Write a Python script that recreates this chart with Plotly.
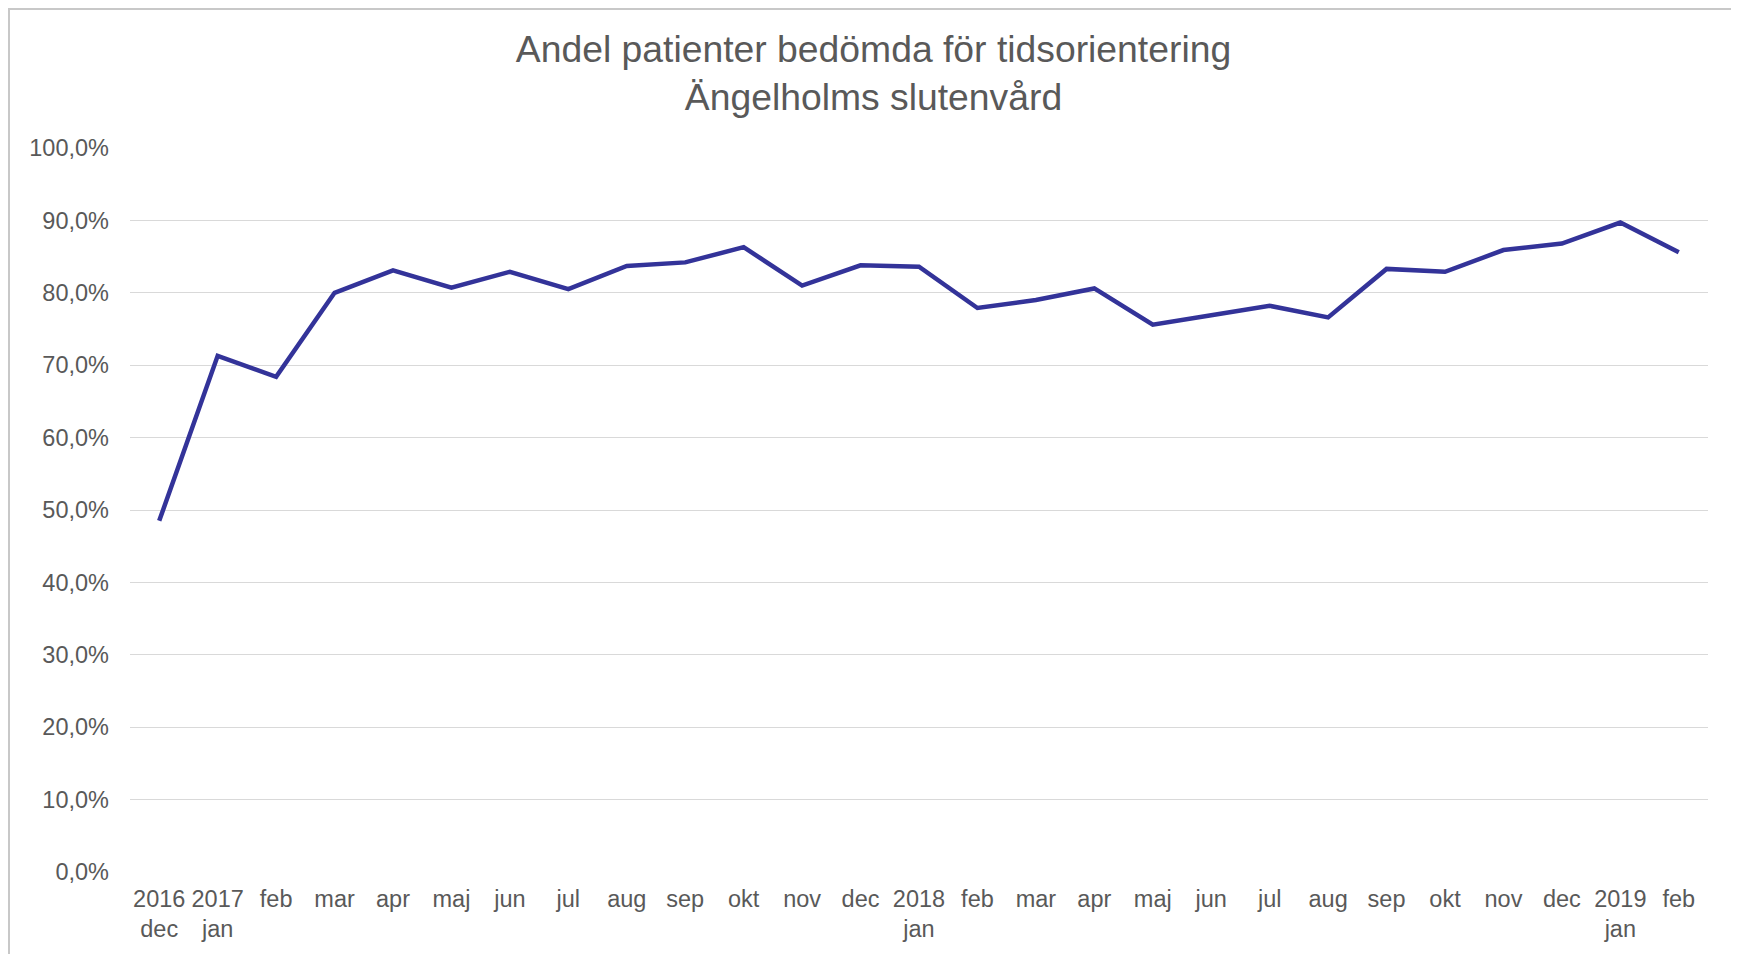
import plotly.graph_objects as go

title_line1 = "Andel patienter bedömda för tidsorientering"
title_line2 = "Ängelholms slutenvård"

month_labels = ["2016<br>dec", "2017<br>jan", "feb", "mar", "apr", "maj", "jun", "jul",
                "aug", "sep", "okt", "nov", "dec", "2018<br>jan", "feb", "mar", "apr",
                "maj", "jun", "jul", "aug", "sep", "okt", "nov", "dec", "2019<br>jan", "feb"]

share_pct = [48.5, 71.3, 68.4, 80.0, 83.1, 80.7, 82.9, 80.5,
             83.7, 84.2, 86.3, 81.0, 83.8, 83.6, 77.9, 79.0, 80.6,
             75.6, 76.9, 78.2, 76.6, 83.3, 82.9, 85.9, 86.8, 89.7, 85.6]

y_ticks = [0, 10, 20, 30, 40, 50, 60, 70, 80, 90, 100]
y_tick_text = [f"{v},0%" for v in y_ticks]

x_pos = list(range(len(share_pct)))

# page has an 8px body margin, so the figure is drawn 8px in from the window edge
W, H = 1731, 946
ML, MR, MT, MB = 122, 31, 140, 82
font_family = "Liberation Sans, Arial, sans-serif"
text_color = "#595959"

fig = go.Figure()
fig.add_trace(go.Scatter(
    x=x_pos, y=share_pct, mode="lines",
    line=dict(color="#333399", width=4.5),
    hoverinfo="y", showlegend=False,
))

pw = W - ML - MR
ph = H - MT - MB

def px_x(p):
    return (p - ML) / pw

def px_y(p):
    return (H - MB - p) / ph

fig.update_layout(
    width=W, height=H,
    margin=dict(l=ML, r=MR, t=MT, b=MB),
    paper_bgcolor="white", plot_bgcolor="white",
    font=dict(family=font_family, color=text_color, size=23.5),
    title=dict(text=f"{title_line1}<br>{title_line2}",
               font=dict(family=font_family, size=37.3, color=text_color),
               x=0.5, xanchor="center", xref="container",
               y=1 - 54 / H, yanchor="middle", yref="container"),
    xaxis=dict(
        range=[-0.5, len(share_pct) - 0.5],
        tickmode="array", tickvals=x_pos, ticktext=month_labels,
        showgrid=False, zeroline=False, showline=False,
        ticks="", ticklabelstandoff=10,
        tickfont=dict(size=23.5, color=text_color),
    ),
    yaxis=dict(
        range=[0, 100],
        tickmode="array", tickvals=y_ticks, ticktext=y_tick_text,
        showgrid=True, gridcolor="#d9d9d9", gridwidth=1.3,
        zeroline=False, showline=False,
        ticks="", ticklabelstandoff=20,
        tickfont=dict(size=23.5, color=text_color),
    ),
    shapes=[dict(type="rect", xref="paper", yref="paper",
                 x0=px_x(1), x1=px_x(1728), y0=px_y(1), y1=px_y(960),
                 line=dict(color="#c8c8c8", width=2), fillcolor="rgba(0,0,0,0)",
                 layer="below")],
)

fig.write_html("out.html")
